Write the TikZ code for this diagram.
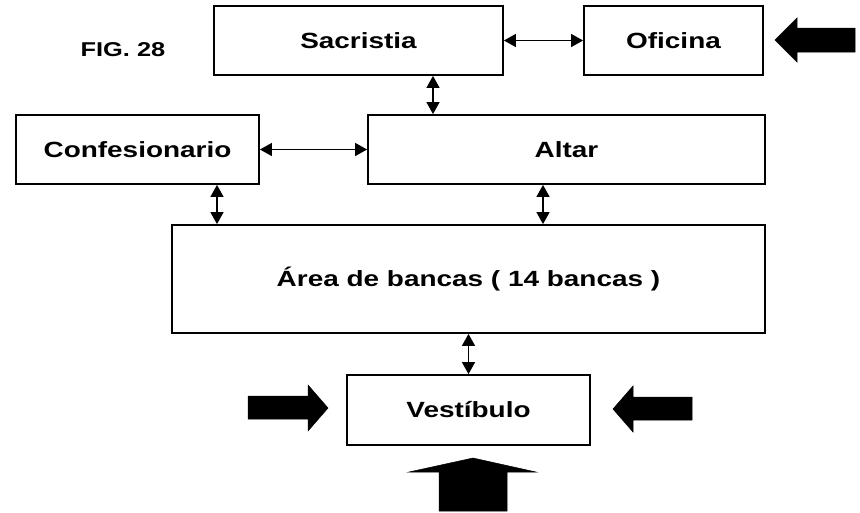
\documentclass[tikz,border=0pt]{standalone}
\usepackage{graphicx}
\usepackage{fontspec}
\setmainfont{Liberation Sans}
\usetikzlibrary{arrows.meta}
\newcommand{\widetext}[1]{\scalebox{1.27}[1]{#1}}
\tikzset{
  room/.style={draw=black, line width=1.8pt, rectangle, inner sep=0pt, fill=white,
    font=\fontsize{22}{26}\selectfont\bfseries},
  conn/.style={line width=1.3pt, {Triangle[length=12pt,width=13pt]}-{Triangle[length=12pt,width=13pt]}},
  blockarrow/.style={fill=black, draw=black, line width=0.5pt, line join=miter}
}
\begin{document}
\begin{tikzpicture}[x=1pt, y=-1pt]
\useasboundingbox (0,0) rectangle (860,512);
\fill[white] (0,0) rectangle (860,512);

% rooms
\node[room, minimum width=289pt, minimum height=69pt] (sac) at (358.5,40.5) {\widetext{Sacristia}};
\node[room, minimum width=179pt, minimum height=69pt] (ofi) at (673.5,40.5) {\widetext{Oficina}};
\node[room, minimum width=243pt, minimum height=69pt] (conf) at (137.5,149.5) {\widetext{Confesionario}};
\node[room, minimum width=397pt, minimum height=69pt] (alt) at (566.5,149.5) {\widetext{Altar}};
\node[room, minimum width=593pt, minimum height=108pt] (ban) at (468.5,279) {\widetext{Área de bancas ( 14 bancas )}};
\node[room, minimum width=243pt, minimum height=70pt] (ves) at (468.5,410) {\widetext{Vestíbulo}};

\node[font=\fontsize{20}{24}\selectfont\bfseries] (fig) at (123,50) {\widetext{FIG. 28}};

% connector positions
\coordinate (xsa) at (433,0);
\coordinate (xcb) at (217,0);
\coordinate (xab) at (543,0);

% connectors
\draw[conn] (sac.east) -- (ofi.west);
\draw[conn] (sac.south -| xsa) -- (alt.north -| xsa);
\draw[conn] (conf.east) -- (alt.west);
\draw[conn] (conf.south -| xcb) -- (ban.north -| xcb);
\draw[conn] (alt.south -| xab) -- (ban.north -| xab);
\draw[conn] (ban.south -| ves.north) -- (ves.north);

% entrance block arrows
\draw[blockarrow] (775,40) -- (797,18) -- (797,28) -- (855,28) -- (855,52) -- (797,52) -- (797,62) -- cycle;
\draw[blockarrow] (328,408) -- (308,385) -- (308,396) -- (248,396) -- (248,419) -- (308,419) -- (308,431) -- cycle;
\draw[blockarrow] (613,409) -- (633,386) -- (633,397) -- (692,397) -- (692,420) -- (633,420) -- (633,432) -- cycle;
\draw[blockarrow] (473,458) -- (536,472) -- (507,472) -- (507,511) -- (439,511) -- (439,472) -- (409,472) -- cycle;
\end{tikzpicture}
\end{document}
